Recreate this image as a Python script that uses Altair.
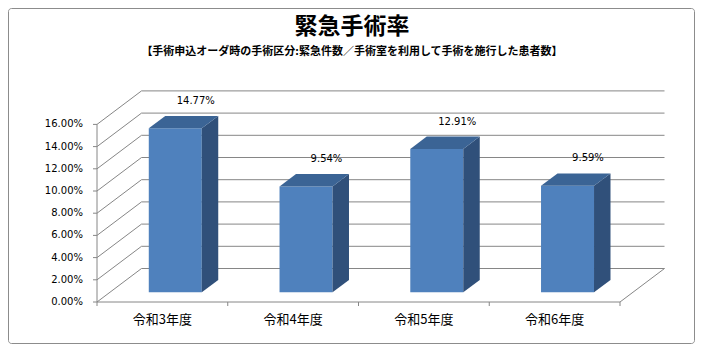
import altair as alt
import pandas as pd

# ---- data ----
categories = ["令和3年度", "令和4年度", "令和5年度", "令和6年度"]
rates = [0.1477, 0.0954, 0.1291, 0.0959]
tick_values = [0.00, 0.02, 0.04, 0.06, 0.08, 0.10, 0.12, 0.14, 0.16]
title_text = "緊急手術率"
subtitle_text = "【手術申込オーダ時の手術区分:緊急件数／手術室を利用して手術を施行した患者数】"

# ---- geometry (layout constants) ----
W, H = 568, 211
CAT_PX = 130.75            # pixels per category on the front floor edge
PX_PER_UNIT = 1110.0       # pixels per 1.0 (=100%) on the front wall
X_MAX = W / CAT_PX
Y_MAX = H / PX_PER_UNIT
DEPTH_DX = 44.5 / CAT_PX   # depth of the 3-D box in x units
DEPTH_DY = 33.5 / PX_PER_UNIT
BAR_W = 53 / CAT_PX
BAR_F0 = 0.29              # depth fraction of bar front face
BAR_D = 0.37               # depth fraction of bar thickness
N = len(categories)

FRONT = "#4F81BD"
TOP = "#3B6495"
SIDE = "#30507A"
GRID = "#868686"

xs = alt.Scale(domain=[0, X_MAX], range=[0, W], nice=False, zero=False)
ys = alt.Scale(domain=[0, Y_MAX], range=[H, 0], nice=False, zero=False)

# ---- tables built from the arrays ----
back = pd.DataFrame({"v": tick_values})
back["x"] = DEPTH_DX
back["x2"] = N + DEPTH_DX
back["y"] = back["v"] + DEPTH_DY
back["x0"] = 0.0
side_wall = pd.DataFrame({"x": 0.0, "x2": DEPTH_DX, "y": tick_values,
                          "y2": [v + DEPTH_DY for v in tick_values]})
floor = pd.DataFrame({"x": [0.0, N], "x2": [N, N + DEPTH_DX],
                      "y": [0.0, 0.0], "y2": [0.0, DEPTH_DY]})
front_axis = pd.DataFrame({"x": [0.0], "y": [0.0], "y2": [max(tick_values)]})

front_rows, side_rows, top_rows, label_rows = [], [], [], []
for i, (c, r) in enumerate(zip(categories, rates)):
    x0 = i + 0.5 - BAR_W / 2 + BAR_F0 * DEPTH_DX
    x1 = x0 + BAR_W
    y0 = BAR_F0 * DEPTH_DY
    y1 = y0 + r
    bdx = BAR_D * DEPTH_DX
    bdy = BAR_D * DEPTH_DY
    front_rows.append({"b": c, "x": x0, "x2": x1, "y": y0, "y2": y1})
    side_rows += [{"b": c, "x": x1, "lo": y0, "hi": y1},
                  {"b": c, "x": x1 + bdx, "lo": y0 + bdy, "hi": y1 + bdy}]
    top_rows += [{"b": c, "y": y1, "xa": x0, "xb": x1},
                 {"b": c, "y": y1 + bdy, "xa": x0 + bdx, "xb": x1 + bdx}]
    label_rows.append({"b": c, "x": (x0 + x1) / 2 + bdx, "y": y1 + bdy, "r": r})

cat_df = pd.DataFrame({"c": categories, "x": [i + 0.5 for i in range(N)], "y": 0.0})
tick_df = pd.DataFrame({"x": list(range(N + 1)), "y": 0.0})

# ---- layers ----
grid_back = alt.Chart(back).mark_rule(color=GRID, strokeWidth=1).encode(
    x=alt.X("x:Q", scale=xs, axis=None), x2="x2:Q",
    y=alt.Y("y:Q", scale=ys, axis=None))

grid_side = alt.Chart(side_wall).mark_rule(color=GRID, strokeWidth=1).encode(
    x=alt.X("x:Q", scale=xs, axis=None), x2="x2:Q",
    y=alt.Y("y:Q", scale=ys, axis=None), y2="y2:Q")

floor_l = alt.Chart(floor).mark_rule(color=GRID, strokeWidth=1).encode(
    x=alt.X("x:Q", scale=xs, axis=None), x2="x2:Q",
    y=alt.Y("y:Q", scale=ys, axis=None), y2="y2:Q")

# y ticks and labels on the front wall edge
yticks = alt.Chart(back).mark_rule(color=GRID, strokeWidth=1).encode(
    x=alt.value(-4), x2=alt.value(0),
    y=alt.Y("v:Q", scale=ys, axis=None))
ylabels = alt.Chart(back).mark_text(
    font="DejaVu Sans", fontSize=10, color="#000000", align="right",
    baseline="middle", dx=-14).encode(
    x=alt.X("x0:Q", scale=xs, axis=None),
    y=alt.Y("v:Q", scale=ys, axis=None),
    text=alt.Text("v:Q", format=".2%"))

axis_line = alt.Chart(front_axis).mark_rule(color=GRID, strokeWidth=1).encode(
    x=alt.X("x:Q", scale=xs, axis=None),
    y=alt.Y("y:Q", scale=ys, axis=None), y2="y2:Q")

xticks = alt.Chart(tick_df).mark_rule(color=GRID, strokeWidth=1).encode(
    x=alt.X("x:Q", scale=xs, axis=None),
    y=alt.Y("y:Q", scale=ys, axis=None),
    y2=alt.value(H + 4))

cat_labels = alt.Chart(cat_df).mark_text(
    font="Noto Sans CJK JP", fontSize=13, color="#000000", dy=18,
    baseline="middle", align="center").encode(
    x=alt.X("x:Q", scale=xs, axis=None),
    y=alt.Y("y:Q", scale=ys, axis=None), text="c:N")

fronts = alt.Chart(pd.DataFrame(front_rows)).mark_rect(color=FRONT).encode(
    x=alt.X("x:Q", scale=xs, axis=None), x2="x2:Q",
    y=alt.Y("y:Q", scale=ys, axis=None), y2="y2:Q")

sides = alt.Chart(pd.DataFrame(side_rows)).mark_area(
    color=SIDE, orient="vertical", interpolate="linear").encode(
    x=alt.X("x:Q", scale=xs, axis=None),
    y=alt.Y("lo:Q", scale=ys, axis=None), y2="hi:Q",
    detail="b:N")

tops = alt.Chart(pd.DataFrame(top_rows)).mark_area(
    color=TOP, orient="horizontal", interpolate="linear").encode(
    y=alt.Y("y:Q", scale=ys, axis=None),
    x=alt.X("xa:Q", scale=xs, axis=None), x2="xb:Q",
    detail="b:N")

labels = alt.Chart(pd.DataFrame(label_rows)).mark_text(
    font="DejaVu Sans", fontSize=10, color="#000000", dy=-15, dx=4,
    baseline="middle", align="center").encode(
    x=alt.X("x:Q", scale=xs, axis=None),
    y=alt.Y("y:Q", scale=ys, axis=None),
    text=alt.Text("r:Q", format=".2%"))

one = alt.Data(values=[{"t": title_text, "s": subtitle_text}])
title = alt.Chart(one).mark_text(
    font="Noto Sans CJK JP", fontSize=23, fontWeight="bold", color="#000000",
    align="center", baseline="middle").encode(
    x=alt.value(352 - 97), y=alt.value(27 - 91), text="t:N")
subtitle = alt.Chart(one).mark_text(
    font="Noto Sans CJK JP", fontSize=11, fontWeight="bold", color="#000000",
    align="center", baseline="middle").encode(
    x=alt.value(352 - 97), y=alt.value(52 - 91), text="s:N")

PAD_L, PAD_T, PAD_R, PAD_B = 89, 83, 30, 42
border = alt.Chart(one).mark_rect(
    fillOpacity=0, stroke="#8C8C8C", strokeWidth=1, cornerRadius=3).encode(
    x=alt.value(-PAD_L + 0.5), x2=alt.value(W + PAD_R - 0.5),
    y=alt.value(-PAD_T + 0.5), y2=alt.value(H + PAD_B - 0.5))

chart = alt.layer(
    border, grid_back, grid_side, floor_l, yticks, ylabels, axis_line, xticks,
    fronts, sides, tops, labels, cat_labels, title, subtitle
).properties(
    width=W, height=H,
    autosize=alt.AutoSizeParams(type="none"),
    padding={"left": PAD_L, "top": PAD_T, "right": PAD_R, "bottom": PAD_B},
    background="#FFFFFF",
).configure_view(stroke="transparent")

chart.save("out.html", embed_options={"renderer": "svg", "actions": False})
